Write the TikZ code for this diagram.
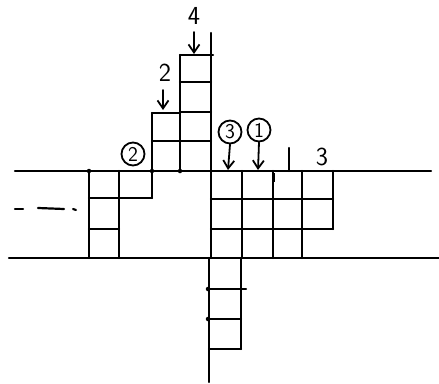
\documentclass[tikz,border=0pt]{standalone}
\usetikzlibrary{arrows.meta}
\begin{document}
\begin{tikzpicture}[x=1pt,y=-1pt,line width=2.2pt,line cap=round,
  lbl/.style={font=\sffamily\fontsize{26}{28}\selectfont,inner sep=0pt},
  circ/.style={draw,circle,line width=1.8pt,font=\sffamily\fontsize{21}{22}\selectfont,inner sep=0pt,minimum size=23pt},
  arr/.style={line width=1.8pt,-{Straight Barb[length=8pt,width=11pt,line width=1.8pt]}},
  pt/.style={fill,circle,inner sep=0pt,minimum size=4.5pt}]
\useasboundingbox (0,0) rectangle (439,383);
% main horizontal lines
\draw (15,171) -- (431,171);
\draw (9,258) -- (439,258);
% left block
\draw (89,171) -- (89,258);
\draw (119,171) -- (119,258);
\draw (89,198) -- (152,198);
\draw (89,229) -- (119,229);
\draw (152,113) -- (152,198);
% tower 2
\draw (152,113) -- (180,113);
\draw (152,141) -- (211,141);
% tower 4
\draw (180,55) -- (180,171);
\draw (180,55) -- (213,55);
\draw (180,82) -- (211,82);
\draw (180,112) -- (211,112);
% central vertical
\draw (211,33) -- (211,258);
\draw (209,258) -- (209,382);
% right block
\draw (211,199) -- (333,199);
\draw (211,229) -- (333,229);
\draw (242,171) -- (242,258);
\draw (273,171) -- (273,258);
\draw (302,171) -- (302,258);
\draw (333,171) -- (333,229);
% lower column
\draw (241,258) -- (241,349);
\draw (209,289) -- (246,289);
\draw (209,319) -- (241,319);
\draw (209,349) -- (241,349);
% dots
\node[pt] (d1) at (89,171) {};
\node[pt] (d2) at (180,171) {};
\node[pt] (d3) at (208,289) {};
\node[pt] (d4) at (208,319) {};
\node[pt] (d5) at (152,171) {};
\draw[line width=3.5pt,line cap=butt] (273.5,173) -- (273.5,182);
% left dashes
\draw (15,209) -- (23,209);
\draw (38,208) -- (64,209);
\draw (73,209) -- (76,210);
% labels
\node[lbl] (l4) at (194,16) {4};
\coordinate (t4) at (194,54);
\draw[arr] (194,32) -- (t4);
\node[lbl] (l2) at (165,73) {2};
\coordinate (t2) at (163,110);
\draw[arr] (163,90) -- (t2);
\node[circ] (c2) at (133,154) {2};
\node[circ] (c3) at (230,132) {3};
\coordinate (t3) at (228,170);
\draw[arr] (c3.south) -- (t3);
\node[circ] (c1) at (259,130) {1};
\coordinate (t1) at (258,170);
\draw[arr] (c1.south) -- (t1);
\coordinate (one) at (289,148);
\draw (one) -- (289,171);
\node[lbl] (l3) at (322,157) {3};
\end{tikzpicture}
\end{document}
